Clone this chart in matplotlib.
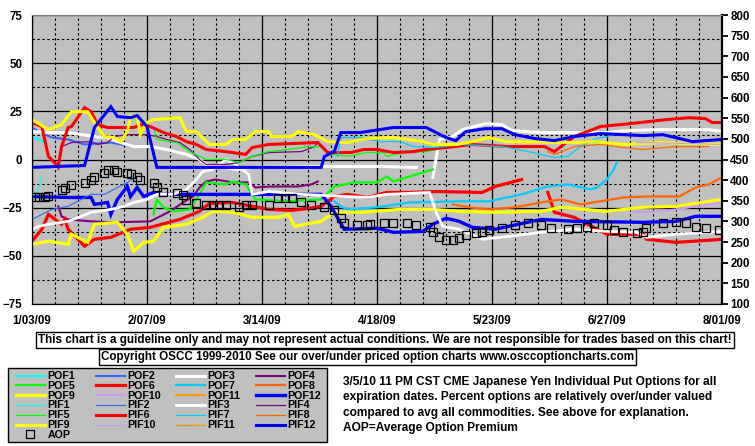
import numpy as np
import matplotlib
matplotlib.use('Agg')
import matplotlib.pyplot as plt
from matplotlib.patches import Rectangle
from datetime import datetime

plt.rcParams['font.family'] = ['Liberation Sans', 'DejaVu Sans']
plt.rcParams['font.weight'] = 'bold'

# ---------------- data (days since 1/03/09, percent) ----------------
date_labels = ['1/03/09', '2/07/09', '3/14/09', '4/18/09', '5/23/09', '6/27/09', '8/01/09']
NaN = np.nan

POF1_d = [0, 2, 4]
POF1_v = [11.9, 10.4, 8.8]
PIF1_d = [0, 2, 3]
PIF1_v = [-19.2, -15.5, -8.8]

POF2_d = [0, 2, 6, 11, 16, 24, 27, 31, 33]
POF2_v = [16.6, 14.5, 11.4, 10.4, 7.8, 8.8, 7.8, 6.7, 6.7]
PIF2_d = [0, 3, 6, 11, 15, 18, 22, 25, 29, 32]
PIF2_v = [-31.1, -28.5, -25.9, -24.3, -20.7, -18.1, -18.1, -15.5, -11.9, -8.8]

POF3_d = [0, 5, 11, 19, 23, 26, 31, 36, 41, 47, 51, 53, 56, 63, 67, 88, 106, 117, 119,
          122, 124, 128, 131, 138, 143, 146, 155, 175, 181, 191, 206, 210]
POF3_v = [14.5, 14, 14, 11.9, 11.4, 9.3, 6.7, 6.7, 5.2, 2.6, 0, -2.6, -3.6, -5.2, -4.1, -3.6, -3.6, -4.1, NaN,
          -9.3, 10.4, 11.9, 15.5, 18.6, 18.1, 15, 14, 14, 15, 15.5, 15.5, 14.5]
PIF3_d = [0, 2, 5, 11, 15, 18, 24, 28, 31, 35, 38, 43, 47, 50, 52, 55, 59, 62, 66, 67, 72, 82,
          102, 108, 121, 123, 125, 130, 137, 145, 155, 165, 175, 184, 187, 196, 206, 210]
PIF3_v = [-36.2, -34.7, -33.6, -32.1, -29.5, -27.4, -25.9, -24.3, -22.3, -20.7, -18.1, -18.1, -15.5, -10.4,
          -6.2, -5.2, 0, -2.6, -7.8, -18.1, -16.6, -18.1, -19.7, -18.1, -17.1, -27.4, -34.7, -36.2, -41.4,
          -39.9, -37.8, -36.2, -37.3, -37.8, -40.4, -38.8, -37.8, -37.3]

POF4_d = [8, 9, 11, 18, 25, 36, 39, 42, 46, 49, 51, 53, 56, 61, 66, 68, 73, 81, 85, 87]
POF4_v = [-24.3, -29.5, -31.1, -32.1, -32.6, -32.1, -29.5, -26.9, -22.3, -19.2, -14.5, -11.4, -10.4,
          -11.9, -11.9, -14.5, -14, -14, -12.9, -11.4]
PIF4_d = [8, 9, 12, 18, 20, 23, 25, 29, 35, 38, 41, 45, 48, 51, 53, 59, 63, 67, 72, 82, 86, 87]
PIF4_v = [-5.2, 6.7, 8.8, 9.3, 7.8, 8.8, 11.9, 12.9, 12.9, 11.9, 10.4, 8.8, 5.2, 0, -2.6, -2.6, -1.6,
          1.6, 3.6, 4.1, 6.7, 9.3]

POF5_d = [37, 38, 40, 43, 48, 51, 53, 59, 61, 65, 68, 78, 88, 92, 98, 105, 108, 110, 114, 117, 122]
POF5_v = [-28.5, -20.7, -24.8, -26.9, -25.9, -18.1, -11.9, -12.9, -11.4, -12.9, -20.7, -21.7, -20.7,
          -14, -11.9, -11.9, -8.8, -11.4, -9.3, -7.8, -5.2]
PIF5_d = [37, 38, 44, 48, 53, 59, 63, 67, 72, 78, 84, 88, 91, 96, 102, 107, 108, 113, 120, 126]
PIF5_v = [16.6, 10.4, 8.8, 4.1, 0, 0, -1.6, 1.6, 4.1, 5.2, 6.7, 6.7, 2.6, 1.6, 3.6, 3.6, 1.6, 3.6, 4.1, 6.2]

POF6_d = [0, 3, 5, 9, 10, 11, 16, 19, 24, 30, 36, 45, 51, 54, 61, 72, 79, 84, 88, 92, 96, 102, 108,
          115, 123, 137, 141, 149, 153, 157, 159, 165, 171, 175, 186, 187, 196, 206, 210]
POF6_v = [-42.4, -36.2, -28.5, -33.6, -31.1, -36.2, -45, -41.4, -40.4, -36.2, -35.2, -31.1, -26.9, -22.8,
          -22.3, -25.9, -26.4, -25.4, -24.3, -19.2, -18.1, -19.7, -17.1, -17.1, -16.6, -17.1, -14, -10.4,
          NaN, -17.1, -27.4, -30, -35.2, -38.8, -38.8, -41.4, -43, -41.9, -41.4]
PIF6_d = [0, 3, 5, 8, 9, 11, 12, 16, 18, 20, 23, 31, 33, 36, 40, 44, 47, 50, 53, 59, 65, 67, 72, 87,
          90, 97, 101, 105, 110, 116, 120, 126, 134, 145, 156, 159, 161, 165, 173, 182, 193, 200, 205, 207, 210]
PIF6_v = [19.2, 17.1, 1.6, -3.6, 6.7, 16.6, 17.1, 26.9, 24.8, 18.1, 16.6, 16.6, 18.1, 17.1, 14, 11.9,
          9.3, 7.8, 5.2, 4.1, 2.6, 6.2, 7.8, 8.8, 3.6, 3.6, 5.2, 5.2, 3.6, 4.1, 5.2, 6.2, 7.8, 6.7, 6.7,
          4.1, 6.7, 11.9, 17.1, 18.6, 20.7, 21.7, 21.2, 19.2, 19.2]

POF7_d = [92, 94, 96, 105, 115, 130, 139, 149, 157, 163, 170, 172, 175, 177, 178]
POF7_v = [-21.7, -24.3, -25.9, -24.8, -22.3, -21.7, -21.7, -18.1, -14, -12.9, -15.5, -14.5, -10.4, -5.2, -1.6]
PIF7_d = [93, 94, 100, 106, 112, 116, 122, 131, 143, 151, 159, 163, 167, 171, 177]
PIF7_v = [1.6, 11.4, 11.4, 9.3, 9.3, 6.7, 6.2, 7.8, 6.7, 4.1, 1, 1.6, 6.7, 10.4, 12.9]

POF8_d = [128, 133, 139, 147, 157, 161, 167, 173, 180, 187, 197, 202, 206, 210]
POF8_v = [-23.3, -24.8, -25.9, -24.8, -21.7, -20.7, -23.3, -21.7, -19.7, -19.2, -19.2, -14.5, -12.9, -9.3]
PIF8_d = [157, 159, 165, 173, 180, 186, 196, 206]
PIF8_v = [4.1, 2.6, 6.7, 7.8, 6.2, 5.2, 6.7, 6.7]

POF9_d = [0, 5, 11, 12, 17, 19, 26, 29, 31, 34, 37, 40, 47, 52, 55, 61, 67, 75, 78, 80, 88, 92, 100,
          112, 122, 130, 141, 155, 161, 175, 186, 196, 210]
POF9_v = [-44, -42.4, -44, -38.8, -43, -33.6, -32.6, -38.8, -47.6, -43, -42.4, -35.2, -33.6, -30, -26.9,
          -27.4, -30, -30, -28.5, -34.7, -32.1, -27.4, -27.4, -25.9, -25.9, -26.9, -27.4, -26.9, -24.8,
          -26.9, -24.8, -24.3, -20.7]
PIF9_d = [0, 5, 9, 12, 17, 19, 22, 25, 27, 29, 30, 32, 33, 35, 37, 45, 47, 50, 54, 59, 61, 65, 68, 72,
          73, 79, 81, 86, 90, 96, 102, 110, 119, 122, 129, 134, 139, 144, 165, 171, 180, 191, 210]
PIF9_v = [20.7, 15.5, 18.1, 24.8, 24.8, 19.2, 11.9, 11.4, 9.3, 14.5, 22.3, 22.3, 12.9, 19.2, 20.7, 21.7,
          14.5, 14.5, 7.8, 7.8, 10.4, 10.4, 14.5, 14.5, 11.9, 11.9, 14.5, 12.9, 9.3, 8.8, 10.9, 11.4, 9.3,
          7.8, 7.8, 9.3, 11.4, 9.3, 8.8, 9.3, 7.8, 8.8, 7.8]

POF10_d = [183, 190, 196, 202, 210]
POF10_v = [-27.4, -26.9, -25.9, -24.3, -22.3]
PIF10_d = [184, 200, 210]
PIF10_v = [8.8, 8.3, 7.8]

POF11_d = []
POF11_v = []
PIF11_d = []
PIF11_v = []

POF12_d = [0, 11, 18, 19, 23, 24, 26, 29, 30, 32, 34, 37, 39, 88, 91, 95, 105, 110, 119, 122, 126, 130,
           134, 141, 145, 155, 165, 186, 196, 202, 210]
POF12_v = [-19.2, -19.7, -19.7, -23.3, -22.3, -28.5, -20.7, -14, -19.2, -14.5, -19.2, -17.1, -18.1,
           -18.1, -24.3, -36.2, -35.7, -37.8, -37.3, -33.6, -30.5, -32.1, -35.2, -36.2, -34.7, -31.1,
           -32.1, -32.6, -32.1, -29.5, -29.5]
PIF12_d = [0, 16, 19, 24, 26, 30, 32, 35, 38, 88, 89, 92, 94, 100, 110, 120, 123, 126, 129, 132, 138,
           143, 147, 153, 159, 165, 173, 186, 192, 201, 210]
PIF12_v = [-4.1, -3.1, 16.6, 27.4, 22.3, 21.7, 22.8, 17.1, -4.1, -4.1, 1.6, 4.1, 14, 14, 16.6, 16.6,
           14, 11.4, 9.8, 14.5, 16, 16, 12.9, 10.9, 9.8, 11.9, 13.5, 12.4, 12.9, 9.3, 10.4]

# Average option premium (right axis)
AOP_d = [1, 2, 4, 5, 9, 10, 12, 16, 18, 19, 22, 23, 25, 26, 29, 30, 32, 33, 37, 38, 40, 44, 46, 47,
         50, 53, 55, 57, 59, 63, 65, 67, 72, 75, 77, 79, 82, 85, 89, 92, 94, 95, 99, 102, 103, 107,
         110, 114, 117, 121, 122, 124, 126, 128, 130, 132, 135, 137, 139, 143, 147, 151, 155, 158,
         163, 166, 169, 171, 175, 177, 180, 184, 186, 187, 192, 196, 199, 202, 205, 209]
AOP_v = [359, 359, 359, 362, 376, 381, 388, 393, 400, 408, 417, 425, 425, 420, 417, 415, 408, 400,
         393, 383, 371, 369, 364, 352, 345, 340, 340, 340, 340, 335, 340, 340, 340, 357, 357, 357,
         347, 340, 335, 328, 308, 296, 291, 291, 294, 296, 296, 296, 291, 286, 274, 262, 255, 255,
         260, 267, 272, 274, 279, 284, 291, 296, 291, 284, 282, 284, 286, 296, 291, 279, 274, 272,
         274, 284, 296, 298, 296, 286, 284, 279]

names = ['POF1', 'POF2', 'POF3', 'POF4', 'POF5', 'POF6', 'POF7', 'POF8', 'POF9', 'POF10', 'POF11', 'POF12',
         'PIF1', 'PIF2', 'PIF3', 'PIF4', 'PIF5', 'PIF6', 'PIF7', 'PIF8', 'PIF9', 'PIF10', 'PIF11', 'PIF12']
days = [POF1_d, POF2_d, POF3_d, POF4_d, POF5_d, POF6_d, POF7_d, POF8_d, POF9_d, POF10_d, POF11_d, POF12_d,
        PIF1_d, PIF2_d, PIF3_d, PIF4_d, PIF5_d, PIF6_d, PIF7_d, PIF8_d, PIF9_d, PIF10_d, PIF11_d, PIF12_d]
vals = [POF1_v, POF2_v, POF3_v, POF4_v, POF5_v, POF6_v, POF7_v, POF8_v, POF9_v, POF10_v, POF11_v, POF12_v,
        PIF1_v, PIF2_v, PIF3_v, PIF4_v, PIF5_v, PIF6_v, PIF7_v, PIF8_v, PIF9_v, PIF10_v, PIF11_v, PIF12_v]

colors12 = ['#00FFFF', '#3366FF', '#FFFFFF', '#800080', '#00FF00', '#FF0000',
            '#00CCFF', '#FF6600', '#FFFF00', '#CC99FF', '#FF9900', '#0000FF']
lw_pof = [1.5, 1.5, 2.2, 1.5, 1.6, 2.3, 1.6, 1.6, 2.3, 1.5, 1.5, 2.4]
lw_pif = [0.8, 0.8, 2.0, 0.9, 0.9, 2.2, 0.9, 0.9, 2.2, 0.9, 0.9, 2.2]
colors = colors12 + colors12
widths = lw_pof + lw_pif

# ---------------- figure ----------------
W, H = 755, 446
fig = plt.figure(figsize=(W / 100, H / 100), dpi=100)
fig.patch.set_facecolor('white')
ax = fig.add_axes([32 / W, 1 - 304 / H, 690 / W, 289 / H])
ax.set_facecolor('#C0C0C0')

base = datetime(2009, 1, 3)
tick_days = [(datetime.strptime(s, '%m/%d/%y') - base).days for s in date_labels]

ax.set_xlim(tick_days[0], tick_days[-1])
ax.set_ylim(-75, 75)
ax.set_xticks(tick_days)
ax.set_xticklabels(date_labels)
ax.set_xticks(np.arange(tick_days[0], tick_days[-1] + 1, 7), minor=True)
ax.set_yticks(np.arange(-75, 76, 25))
ax.set_yticks(np.arange(-62.5, 75, 25), minor=True)
ax.grid(which='major', color='black', lw=0.9, ls='-')
ax.grid(which='minor', color='black', lw=0.8, ls=(0, (2.2, 2.2)))
ax.set_axisbelow(True)
ax.tick_params(axis='both', which='both', length=0)
ax.tick_params(axis='x', pad=8, labelsize=8.3)
ax.tick_params(axis='y', pad=7, labelsize=8.3)
for lab in ax.get_xticklabels() + ax.get_yticklabels():
    lab.set_fontweight('bold')

handles = []
for n, d, v, c, w in zip(names, days, vals, colors, widths):
    ln, = ax.plot(d, v, color=c, lw=w, solid_joinstyle='miter', label=n)
    handles.append(ln)

ax2 = ax.twinx()
ax2.set_ylim(100, 800)
ax2.set_yticks(np.arange(100, 801, 50))
ax2.tick_params(axis='y', length=4, width=1.3, pad=2, labelsize=8.3, direction='out')
for lab in ax2.get_yticklabels():
    lab.set_fontweight('bold')
aop, = ax2.plot(AOP_d, AOP_v, ls='none', marker='s', ms=5.6, mfc='none', mec='black', mew=0.9, label='AOP')
handles.append(aop)

for a in (ax, ax2):
    a.spines['top'].set_color('#808080')
    a.spines['left'].set_color('black')
    a.spines['bottom'].set_color('black')
    a.spines['right'].set_color('black')
    a.spines['right'].set_linewidth(1.5)

# legend box (gray frame) and four fixed-pitch columns, row-major order like the original
fig.add_artist(Rectangle((8 / W, 1 - 442 / H), 319 / W, 74 / H, transform=fig.transFigure,
                         facecolor='#C0C0C0', edgecolor='black', lw=1.0, zorder=1))
rows = [names[0:4], names[4:8], names[8:12], names[12:16], names[16:20], names[20:24], ['AOP']]
hmap = {h.get_label(): h for h in handles}
col_x = [16, 96, 176, 256]
for col in range(4):
    labs = [r[col] for r in rows if col < len(r)]
    lg = fig.legend([hmap[n] for n in labs], labs, loc='upper left',
                    bbox_to_anchor=(col_x[col] / W, 1 - 371 / H), ncol=1, frameon=False,
                    prop={'weight': 'bold', 'size': 7.7}, handlelength=2.7, handletextpad=0.25,
                    handleheight=0.5, labelspacing=-0.02, borderpad=0.0, borderaxespad=0)
    lg.set_zorder(2)

# text boxes
fig.text(385 / W, 1 - 340 / H,
         'This chart is a guideline only and may not represent actual conditions. We are not responsible for trades based on this chart!',
         ha='center', va='center', fontsize=8.35, fontweight='bold',
         bbox=dict(boxstyle='square,pad=0.2', fc='white', ec='black', lw=1))
fig.text(367.5 / W, 1 - 357 / H,
         'Copyright OSCC 1999-2010 See our over/under priced option charts www.osccoptioncharts.com',
         ha='center', va='center', fontsize=8.35, fontweight='bold',
         bbox=dict(boxstyle='square,pad=0.2', fc='white', ec='black', lw=1))

info = ['3/5/10 11 PM CST CME Japanese Yen Individual Put Options for all',
        'expiration dates. Percent options are relatively over/under valued',
        'compared to avg all commodities. See above for explanation.',
        'AOP=Average Option Premium']
for i, line in enumerate(info):
    fig.text(343 / W, 1 - (382 + 15.3 * i) / H, line, ha='left', va='center',
             fontsize=8.6, fontweight='bold')

fig.savefig('out.png', dpi=100, facecolor='white')
